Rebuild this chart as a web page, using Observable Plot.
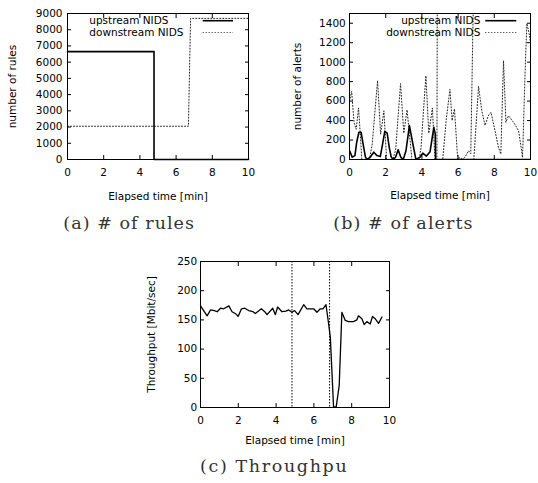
<!DOCTYPE html>
<html><head><meta charset="utf-8">
<script src="https://cdn.jsdelivr.net/npm/d3@7"></script>
<script src="https://cdn.jsdelivr.net/npm/@observablehq/plot@0.6"></script>
<style>
html,body{margin:0;padding:0;background:#fff;overflow:hidden}
#root{position:relative;width:538px;height:483px;overflow:hidden}
.panel{position:absolute}
</style></head><body><div id="root"></div>
<script>
// ---------- data ----------
const timeTicks = [0, 2, 4, 6, 8, 10];
const ruleTicks = [0, 1000, 2000, 3000, 4000, 5000, 6000, 7000, 8000, 9000];
const alertTicks = [0, 200, 400, 600, 800, 1000, 1200, 1400];
const tputTicks = [0, 50, 100, 150, 200, 250];
const seriesNames = ["upstream NIDS", "downstream NIDS"];
const captions = ["(a) # of rules", "(b) # of alerts", "(c) Throughpu"];

// (a) number of rules
const ruleUpT = [0, 4.78, 4.78, 10];
const ruleUpV = [6650, 6650, 0, 0];
const ruleDownT = [0, 6.68, 6.8, 10];
const ruleDownV = [2050, 2050, 8700, 8700];

// (b) number of alerts
const alertUpT = [0,0.15,0.3,0.4,0.52,0.64,0.76,0.88,0.97,1.15,1.34,1.52,1.7,1.82,1.95,2.08,2.2,2.3,2.4,2.55,2.69,2.83,2.97,3.12,3.31,3.5,3.67,3.9,4.05,4.25,4.45,4.55,4.66,4.74,4.76,10];
const alertUpV = [92,24,40,180,280,280,150,24,0,25,75,40,30,150,290,270,120,30,0,25,99,25,0,90,349,161,0,25,65,35,80,200,330,260,0,0];
const alertDownT = [0,0.12,0.25,0.37,0.5,0.6,0.68,0.95,1.1,1.25,1.55,1.72,1.9,2.05,2.4,2.55,2.82,3.0,3.18,3.45,3.85,3.95,4.22,4.38,4.58,4.72,4.83,4.85,4.87,5.15,5.35,5.55,5.67,5.8,5.98,6.1,6.25,6.4,6.57,6.7,6.85,6.87,6.98,7.13,7.31,7.49,7.67,7.82,8.0,8.23,8.36,8.51,8.64,8.78,9.06,9.34,9.48,9.56,9.71,9.8,9.93,10];
const alertDownV = [600,700,380,310,530,250,0,0,0,150,810,260,500,0,0,100,780,270,510,0,0,120,860,270,530,0,0,1700,0,0,420,720,400,520,0,20,5,30,90,60,1700,0,320,750,500,350,450,485,330,126,56,1015,383,450,383,297,126,20,947,1398,1290,1200];

// (c) throughput
const tputT = [0,0.35,0.53,0.74,0.88,1.06,1.23,1.5,1.67,1.88,1.99,2.17,2.34,2.55,2.78,2.9,3.22,3.43,3.52,3.82,3.96,4.08,4.31,4.52,4.67,4.84,4.98,5.16,5.46,5.63,5.86,5.99,6.16,6.34,6.48,6.64,6.78,6.87,6.95,7.04,7.18,7.34,7.48,7.66,7.83,8.1,8.27,8.36,8.54,8.66,8.8,8.98,9.1,9.24,9.42,9.6];
const tputV = [174,157,167,166,164,170,169,174,164,160,156,169,170,166,164,161,169,163,159,170,159,172,164,165,167,163,166,159,176,169,169,169,163,169,169,176,143,120,64,1,1,38,163,149,147,147,150,157,152,142,147,143,156,152,144,155];
const eventTimes = [4.84, 6.83];

// ---------- helpers ----------
const FONT = "DejaVu Sans";
const FS = 10.5;
const zip = (t, v) => t.map((x, i) => ({t: x, v: v[i]}));
// split a series into runs after every off-scale value (its return stroke coincides with the rise)
const runs = (t, v, max) => { let r = 0; return t.map((x, i) => { const d = {t: x, v: v[i], run: r}; if (v[i] > max) r++; return d; }); };
const solid = {stroke: "#000", strokeWidth: 1.6};
const dotted = {stroke: "#222", strokeWidth: 1, strokeDasharray: "1,2"};

function legend(o) {
  return (index, scales, values, dims) => {
    const g = d3.create("svg:g").attr("font-family", FONT).attr("font-size", FS);
    [solid, dotted].forEach((st, i) => {
      const y = dims.marginTop + o.rowY[i];
      g.append("text").attr("x", dims.marginLeft + o.textX).attr("y", y).attr("dy", "0.36em")
        .attr("text-anchor", o.anchor).attr("fill", "#000").text(seriesNames[i]);
      g.append("line").attr("x1", dims.marginLeft + o.lineX1).attr("x2", dims.marginLeft + o.lineX2)
        .attr("y1", y).attr("y2", y).attr("stroke", st.stroke).attr("stroke-width", st.strokeWidth)
        .attr("stroke-dasharray", st.strokeDasharray || null);
    });
    return g.node();
  };
}

function panel(c) {
  const svg = Plot.plot({
    width: c.width, height: c.height,
    marginTop: c.mt, marginRight: c.mr, marginBottom: c.mb, marginLeft: c.ml,
    style: {fontFamily: FONT, fontSize: FS + "px", color: "#000", background: "none", overflow: "visible"},
    x: {domain: [0, 10]},
    y: {domain: c.yDomain},
    marks: [
      ...c.marks,
      Plot.frame({stroke: "#000", strokeWidth: 1}),
      Plot.axisX(timeTicks, {anchor: "bottom", tickSize: -4, tickPadding: c.xPad, tickFormat: d => String(d),
        label: "Elapsed time [min]", labelAnchor: "center", labelOffset: c.xLabOff, labelArrow: "none"}),
      Plot.axisX(timeTicks, {anchor: "top", tickSize: -4, tickFormat: () => "", label: null}),
      Plot.axisY(c.yTicks, {anchor: "left", tickSize: -4, tickPadding: c.yPad, tickFormat: d => String(d),
        label: c.yLabel, labelAnchor: "center", labelOffset: c.yLabOff, labelArrow: "none"}),
      Plot.axisY(c.yTicks, {anchor: "right", tickSize: -4, tickFormat: () => "", label: null})
    ]
  });
  svg.classList.add("panel");
  svg.style.left = c.left + "px";
  svg.style.top = c.top + "px";
  return svg;
}

const root = document.getElementById("root");

// (a)
root.appendChild(panel({
  left: 0, top: 0, width: 268, height: 205, mt: 13, mr: 20, mb: 46, ml: 67,
  yDomain: [0, 9000], yTicks: ruleTicks, yLabel: "number of rules",
  xPad: 13.4, yPad: 9, xLabOff: 40.8, yLabOff: 58.7,
  marks: [
    Plot.line(zip(ruleDownT, ruleDownV), {x: "t", y: "v", ...dotted}),
    Plot.line(zip(ruleUpT, ruleUpV), {x: "t", y: "v", ...solid}),
    legend({anchor: "start", textX: 22.3, lineX1: 135.7, lineX2: 166, rowY: [7.7, 19.5]})
  ]
}));

// (b)
root.appendChild(panel({
  left: 270, top: 0, width: 268, height: 205, mt: 13, mr: 8, mb: 46, ml: 79,
  yDomain: [0, 1500], yTicks: alertTicks, yLabel: "number of alerts",
  xPad: 12.8, yPad: 7.7, xLabOff: 39.5, yLabOff: 56.1,
  marks: [
    Plot.line(runs(alertDownT, alertDownV, 1500), {x: "t", y: "v", z: "run", clip: true, ...dotted}),
    Plot.line(zip(alertUpT, alertUpV), {x: "t", y: "v", clip: true, ...solid}),
    legend({anchor: "end", textX: 131.3, lineX1: 136.3, lineX2: 167.3, rowY: [7.7, 19.5]})
  ]
}));

// (c)
root.appendChild(panel({
  left: 130, top: 240, width: 280, height: 210, mt: 21, mr: 21, mb: 43, ml: 70,
  yDomain: [0, 250], yTicks: tputTicks, yLabel: "Throughput [Mbit/sec]",
  xPad: 12.8, yPad: 7.3, xLabOff: 36.2, yLabOff: 52.7,
  marks: [
    Plot.ruleX(eventTimes, {stroke: "#000", strokeWidth: 1, strokeDasharray: "1.5,1.5"}),
    Plot.line(zip(tputT, tputV), {x: "t", y: "v", stroke: "#000", strokeWidth: 1.3})
  ]
}));

// captions
const cap = d3.create("svg").attr("width", 538).attr("height", 483)
  .attr("class", "panel").style("left", "0px").style("top", "0px").style("pointer-events", "none");
const capPos = [{x: 63.3, y: 228.5, w: 130.7}, {x: 333.3, y: 228.5, w: 139.3}, {x: 200, y: 471.7, w: 146.7}];
captions.forEach((s, i) => {
  cap.append("text").attr("x", capPos[i].x).attr("y", capPos[i].y)
    .attr("font-family", "DejaVu Serif").attr("font-size", 17.5).attr("fill", "#333")
    .attr("textLength", capPos[i].w).attr("lengthAdjust", "spacing").text(s);
});
root.appendChild(cap.node());
</script>
</body></html>
